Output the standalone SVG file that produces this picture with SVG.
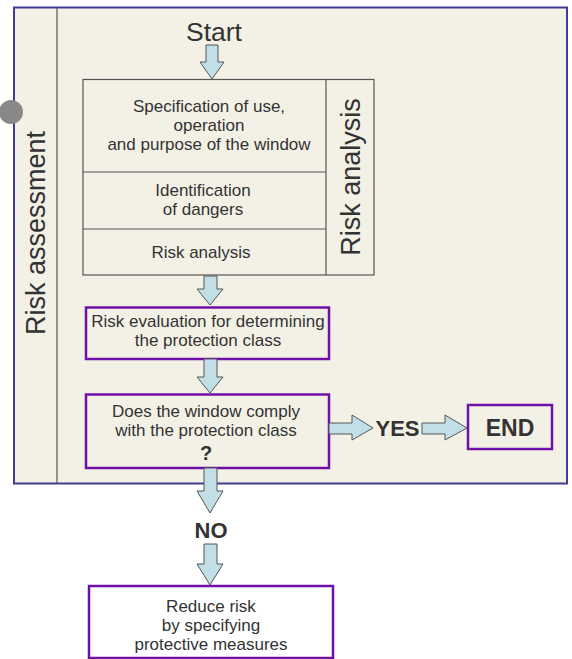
<svg xmlns="http://www.w3.org/2000/svg" width="572" height="659" viewBox="0 0 572 659">
<style>
text{font-family:"Liberation Sans",Arial,sans-serif;fill:#333;}
.t14{font-size:17px;text-anchor:middle;}
.big{font-size:27px;}
.b{font-weight:bold;font-size:22px;text-anchor:middle;}
.arr{fill:#c2dfe8;stroke:#555;stroke-width:1;}
.pbox{fill:#f3f1e6;stroke:#7010a8;stroke-width:2.5;}
.gline{stroke:#555;stroke-width:1.2;fill:none;}
</style>
<rect width="572" height="659" fill="#ffffff"/>
<g id="frame">
<rect x="14" y="7.5" width="553" height="476" fill="#f3f1e6" stroke="#403c96" stroke-width="2"/>
<line x1="57" y1="8" x2="57" y2="483" class="gline"/>
<circle cx="11" cy="112" r="12" fill="#888"/>
<text class="big" transform="translate(45,233) rotate(-90)" text-anchor="middle">Risk assessment</text>
</g>
<g id="start">
<text x="214" y="41" font-size="26.5" text-anchor="middle">Start</text>
</g>
<g id="riskanalysis">
<rect x="83" y="79.5" width="291" height="195.5" fill="#f3f1e6" stroke="#555" stroke-width="1.2"/>
<line x1="326" y1="79.5" x2="326" y2="275" class="gline"/>
<line x1="83" y1="172" x2="326" y2="172" class="gline"/>
<line x1="83" y1="229" x2="326" y2="229" class="gline"/>
<text class="t14" x="209" y="112">Specification of use,</text>
<text class="t14" x="209" y="131">operation</text>
<text class="t14" x="209" y="150">and purpose of the window</text>
<text class="t14" x="203" y="196">Identification</text>
<text class="t14" x="203" y="215">of dangers</text>
<text class="t14" x="201" y="258">Risk analysis</text>
<text class="big" transform="translate(360,177) rotate(-90)" text-anchor="middle">Risk analysis</text>
</g>
<g id="evaluation">
<rect class="pbox" x="86" y="307.5" width="243" height="51.5"/>
<text class="t14" x="208" y="327">Risk evaluation for determining</text>
<text class="t14" x="208" y="346">the protection class</text>
</g>
<g id="decision">
<rect class="pbox" x="86" y="394.5" width="243" height="73.5"/>
<text class="t14" x="206" y="417">Does the window comply</text>
<text class="t14" x="206" y="436">with the protection class</text>
<text x="206" y="460" font-size="20" font-weight="bold" text-anchor="middle">?</text>
</g>
<g id="end">
<rect class="pbox" x="468" y="405" width="84" height="44"/>
<text class="b" x="510" y="436" style="font-size:23px">END</text>
</g>
<g id="reduce">
<rect class="pbox" x="89" y="586" width="244" height="72" style="fill:#ffffff"/>
<text class="t14" x="211" y="612">Reduce risk</text>
<text class="t14" x="211" y="631">by specifying</text>
<text class="t14" x="211" y="650">protective measures</text>
</g>
<g id="connectors">
<polygon class="arr" points="206,45 218,45 218,62 224,62 212,79 200,62 206,62"/>
<polygon class="arr" points="204,276 217,276 217,289 223,289 210,305 197,289 204,289"/>
<polygon class="arr" points="204,359 217,359 217,377 223,377 210,393 197,377 204,377"/>
<polygon class="arr" points="204,468 217,468 217,491 223,491 210,513 197,491 204,491"/>
<polygon class="arr" points="204,544 217,544 217,564 223,564 210,585 197,564 204,564"/>
<polygon class="arr" points="329,423 352,423 352,415 373,428 352,440 352,434 329,434"/>
<polygon class="arr" points="422,423 445,423 445,415 467,428 445,440 445,434 422,434"/>
<text class="b" x="397.5" y="436">YES</text>
<text class="b" x="211" y="538">NO</text>
</g>
</svg>
